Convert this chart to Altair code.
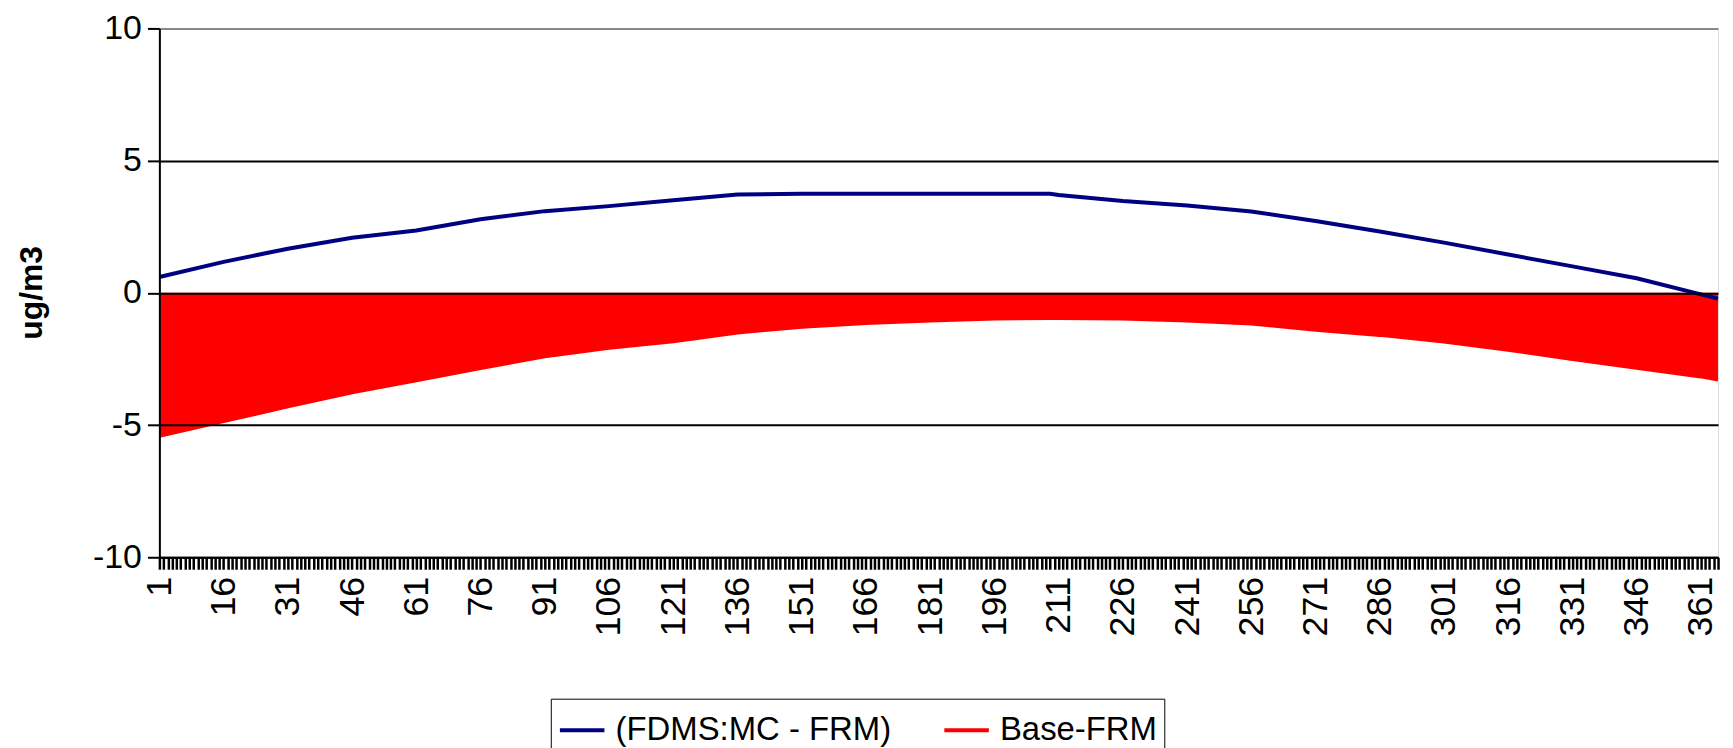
import altair as alt
import pandas as pd

days = [1, 16, 31, 46, 61, 76, 91, 106, 121, 136, 151, 166, 181, 196, 209, 211,
        226, 241, 256, 271, 286, 301, 316, 331, 346, 361, 365]
fdms_minus_frm = [0.6, 1.17, 1.67, 2.08, 2.36, 2.78, 3.09, 3.28, 3.5, 3.72, 3.75, 3.75,
                  3.75, 3.75, 3.75, 3.7, 3.47, 3.3, 3.08, 2.72, 2.32, 1.9, 1.45, 1.0,
                  0.55, -0.06, -0.22]
base_frm = [-5.41, -4.85, -4.29, -3.76, -3.31, -2.84, -2.4, -2.08, -1.83, -1.5, -1.28,
            -1.14, -1.05, -0.97, -0.95, -0.95, -0.97, -1.05, -1.16, -1.4, -1.59, -1.84,
            -2.15, -2.5, -2.83, -3.16, -3.28]
x_ticks = list(range(1, 366))
y_ticks = [-10, -5, 0, 5, 10]
series_names = ["(FDMS:MC - FRM)", "Base-FRM"]
series_colors = ["#000080", "#FF0000"]

rows = []
for d, a, b in zip(days, fdms_minus_frm, base_frm):
    rows.append({"day": d, "series": series_names[0], "value": a})
    rows.append({"day": d, "series": series_names[1], "value": b})
df = pd.DataFrame(rows)

FONT = "Liberation Sans"

x_enc = alt.X(
    "day:Q",
    scale=alt.Scale(domain=[1, 365], nice=False, zero=False),
    axis=alt.Axis(
        values=x_ticks,
        labelExpr="(datum.value - 1) % 15 === 0 ? datum.label : ''",
        labelAngle=-90,
        labelOverlap=False,
        labelFlush=False,
        tickSize=12,
        tickWidth=2.5,
        tickColor="black",
        domainColor="black",
        domainWidth=2,
        labelPadding=7,
        labelFontSize=36,
        labelFont=FONT,
        labelColor="black",
        title=None,
        grid=False,
    ),
)

y_enc = alt.Y(
    "value:Q",
    scale=alt.Scale(domain=[-10, 10], nice=False),
    axis=alt.Axis(
        values=y_ticks,
        labelExpr="'' + datum.value",
        title="ug/m3",
        titleFont=FONT,
        titleFontSize=32,
        titleFontWeight="bold",
        titleColor="black",
        titleAngle=-90,
        titleX=-128,
        titleY=265,
        titleAlign="center",
        titleBaseline="middle",
        labelFontSize=34,
        labelFont=FONT,
        labelColor="black",
        labelPadding=6,
        tickSize=12,
        tickWidth=2,
        tickColor="black",
        domainColor="black",
        domainWidth=2,
        grid=True,
        gridColor={"condition": {"test": "datum.value === 10", "value": "#888888"}, "value": "black"},
        gridWidth=2,
        gridOpacity=1,
        zindex=1,
    ),
)

area = (
    alt.Chart(df)
    .transform_filter(alt.datum.series == series_names[1])
    .mark_area(color="#FF0000", opacity=1)
    .encode(x=x_enc, y=y_enc, y2=alt.Y2Datum(0))
)

lines = (
    alt.Chart(df)
    .mark_line(strokeWidth=4)
    .encode(
        x=x_enc,
        y=y_enc,
        color=alt.Color(
            "series:N",
            scale=alt.Scale(domain=series_names, range=series_colors),
            legend=alt.Legend(
                orient="none",
                legendX=393,
                legendY=673,
                direction="horizontal",
                title=None,
                symbolType="stroke",
                symbolSize=2000,
                symbolStrokeWidth=4,
                labelFontSize=33,
                labelFont=FONT,
                labelColor="black",
                labelLimit=0,
                labelOffset=9,
                strokeColor="black",
                fillColor="white",
                padding=7,
                columnPadding=45,
            ),
        ),
    )
)

chart = (
    alt.layer(area, lines)
    .properties(
        width=1565,
        height=531,
        autosize=alt.AutoSizeParams(type="none"),
        padding={"left": 152, "top": 19, "right": 7, "bottom": 190},
    )
    .configure_view(stroke="#888888", strokeWidth=2)
    .configure(background="white")
)

chart.save("out.html", embed_options={"renderer": "svg", "actions": False})
